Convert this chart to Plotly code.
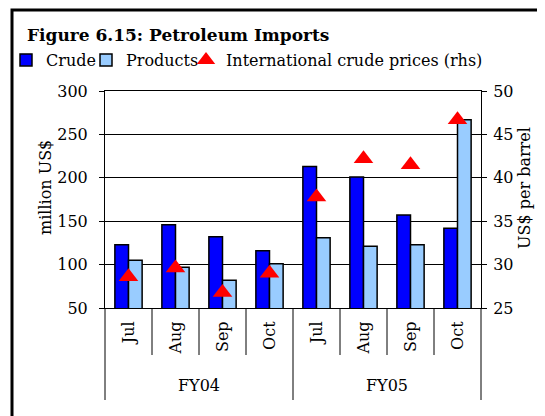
import plotly.graph_objects as go

years = ["FY04", "FY05"]
months = ["Jul", "Aug", "Sep", "Oct", "Jul", "Aug", "Sep", "Oct"]
crude = [123, 146, 132, 116, 213, 201, 157, 142]
products = [105, 97, 82, 101, 131, 121, 123, 267]
prices = [28.6, 29.6, 26.8, 29.0, 37.8, 42.2, 41.5, 46.7]

FONT = "DejaVu Serif, Liberation Serif, serif"
OFF = 8  # page body margin

# plot area in page pixels: x 105..481, y 91..308
W, H = 545 - OFF, 416 - OFF
L, R, T, B = 105 - OFF, 481 - OFF, 91 - OFF, 308 - OFF
pw, ph = R - L, B - T


def px(x):
    return (x - OFF - L) / pw


def py(y):
    return (B - (y - OFF)) / ph


xs = list(range(len(months)))

fig = go.Figure()
fig.add_trace(go.Bar(x=xs, y=crude, name="Crude", legend="legend",
                     marker=dict(color="#0000ff", line=dict(color="black", width=1.5))))
fig.add_trace(go.Bar(x=xs, y=products, name="Products", legend="legend2",
                     marker=dict(color="#99ccff", line=dict(color="black", width=1.5))))
fig.add_trace(go.Scatter(x=xs, y=prices, name="International crude prices (rhs)",
                         yaxis="y2", mode="markers", legend="legend3",
                         marker=dict(symbol="triangle-up", size=17, color="#ff0000")))

n = len(months)
per_year = n // len(years)
shapes = []
for i in range(n + 1):
    y_end = 400 if i % per_year == 0 else 355
    shapes.append(dict(type="line", xref="paper", yref="paper",
                       x0=i / n, x1=i / n, y0=0, y1=py(y_end),
                       line=dict(color="black", width=1)))
shapes.append(dict(type="rect", xref="paper", yref="paper",
                   x0=px(12), x1=px(580), y0=py(10), y1=py(450),
                   line=dict(color="black", width=3)))

annotations = [
    dict(text="<b>Figure 6.15: Petroleum Imports</b>", xref="paper", yref="paper",
         x=px(25), y=py(35), xanchor="left", yanchor="middle", showarrow=False,
         font=dict(family=FONT, size=17, color="black")),
    dict(text="million US$", xref="paper", yref="paper", x=px(45), y=py(188),
         textangle=-90, showarrow=False, xanchor="center", yanchor="middle",
         font=dict(family=FONT, size=16, color="black")),
    dict(text="US$ per barrel", xref="paper", yref="paper", x=px(524), y=py(188),
         textangle=-90, showarrow=False, xanchor="center", yanchor="middle",
         font=dict(family=FONT, size=16, color="black")),
]
for k, yr in enumerate(years):
    annotations.append(dict(text=yr, xref="paper", yref="paper",
                            x=(k + 0.5) / len(years), y=py(385),
                            xanchor="center", yanchor="middle", showarrow=False,
                            font=dict(family=FONT, size=16, color="black")))


def leg(x):
    return dict(orientation="h", x=px(x), y=py(60), xanchor="left", yanchor="middle",
                font=dict(family=FONT, size=16), itemwidth=30,
                bgcolor="rgba(0,0,0,0)")


fig.update_layout(
    width=W, height=H,
    margin=dict(l=L, r=W - R, t=T, b=H - B, autoexpand=False),
    paper_bgcolor="white", plot_bgcolor="white",
    font=dict(family=FONT, size=16, color="black"),
    barmode="group", bargap=0.42, bargroupgap=0,
    showlegend=True,
    legend=leg(6), legend2=leg(86), legend3=leg(186),
    xaxis=dict(range=[-0.5, n - 0.5], tickmode="array", tickvals=xs, ticktext=months,
               showline=True, linecolor="black", linewidth=1, mirror=True,
               tickangle=-90, ticks="", showgrid=False, zeroline=False,
               ticklabelstandoff=6, tickfont=dict(family=FONT, size=16)),
    yaxis=dict(range=[50, 300], dtick=50, showgrid=True, gridcolor="black", gridwidth=1,
               showline=True, linecolor="black", linewidth=1, ticks="outside",
               ticklen=5, tickcolor="black", ticklabelstandoff=8, zeroline=False),
    yaxis2=dict(range=[25, 50], dtick=5, overlaying="y", side="right", showgrid=False,
                showline=True, linecolor="black", linewidth=1, ticks="outside",
                ticklen=5, tickcolor="black", ticklabelstandoff=3, zeroline=False),
    shapes=shapes,
    annotations=annotations,
)

fig.write_html("out.html")
